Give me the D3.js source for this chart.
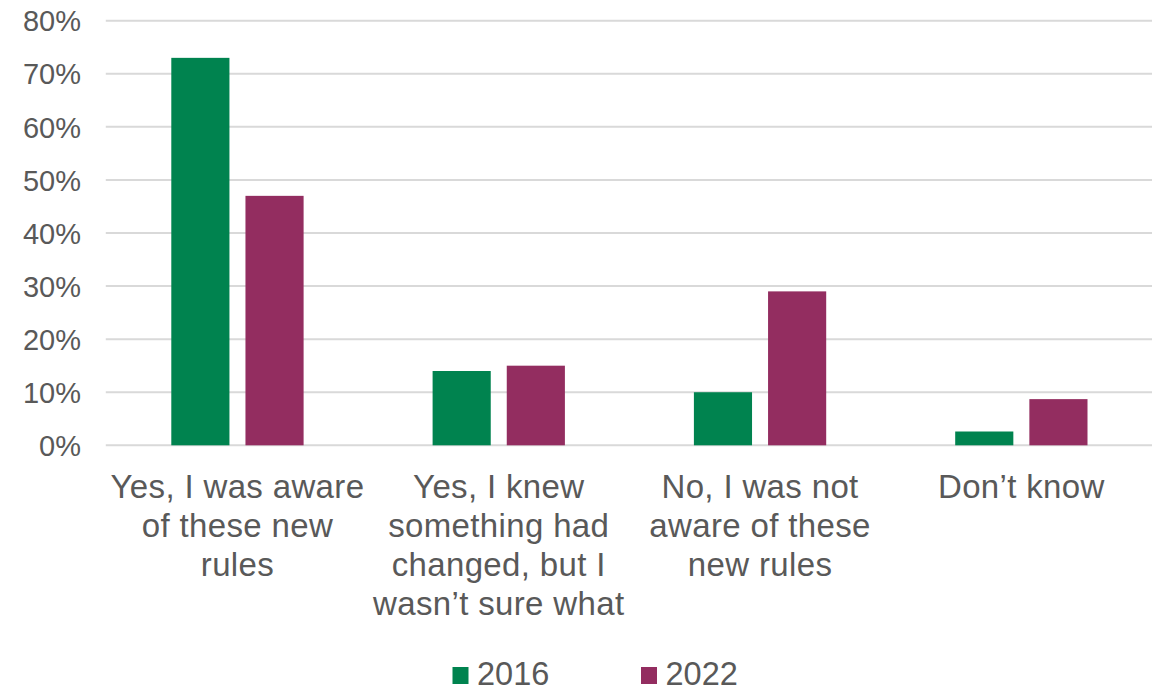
<!DOCTYPE html>
<html>
<head>
<meta charset="utf-8">
<script src="https://cdn.jsdelivr.net/npm/d3@7"></script>
<style>
  html, body { margin: 0; padding: 0; background: #fff; }
  svg { display: block; }
  text { font-family: "Liberation Sans", Arial, sans-serif; fill: #595959; }
</style>
</head>
<body>
<svg id="chart" width="1157" height="692"></svg>
<script>
// ---- data ----
const categories = [
  "Yes, I was aware\nof these new\nrules",
  "Yes, I knew\nsomething had\nchanged, but I\nwasn\u2019t sure what",
  "No, I was not\naware of these\nnew rules",
  "Don\u2019t know"
];
const seriesNames = ["2016", "2022"];
const values2016 = [73, 14, 10, 2.6];
const values2022 = [47, 15, 29, 8.7];
const yTicks = [0, 10, 20, 30, 40, 50, 60, 70, 80];
const colors = ["#00834F", "#932D60"];

const seriesValues = [values2016, values2022];
const data = categories.map((c, i) => ({
  cat: c,
  vals: seriesNames.map((s, j) => ({ series: s, value: seriesValues[j][i] }))
}));

const svg = d3.select("#chart");
const plotLeft = 106.8, plotRight = 1152, plotTop = 20.7, plotBottom = 445.3;

const y = d3.scaleLinear().domain([0, 80]).range([plotBottom, plotTop]);
const x0 = d3.scaleBand().domain(categories).range([plotLeft, plotRight]).padding(0);
const x1 = d3.scaleBand().domain(seriesNames)
  .range([64.5, x0.bandwidth() - 64.5]).paddingInner(0.216).paddingOuter(0);
const color = d3.scaleOrdinal().domain(seriesNames).range(colors);

// gridlines
svg.append("g")
  .selectAll("line").data(yTicks).join("line")
  .attr("x1", plotLeft - 1).attr("x2", plotRight)
  .attr("y1", d => y(d)).attr("y2", d => y(d))
  .attr("stroke", "#d9d9d9").attr("stroke-width", 2);

// y axis labels
const yAxis = d3.axisLeft(y).tickValues(yTicks).tickFormat(d => d + "%").tickSize(0).tickPadding(0);
const gy = svg.append("g").attr("transform", `translate(81,0)`).call(yAxis);
gy.select(".domain").remove();
gy.selectAll("text")
  .style("font-family", '"Liberation Sans", Arial, sans-serif')
  .style("font-size", "29px").attr("fill", "#595959").attr("dy", "0.35em");

// bars
svg.append("g").selectAll("g").data(data).join("g")
  .attr("transform", d => `translate(${x0(d.cat)},0)`)
  .selectAll("rect").data(d => d.vals).join("rect")
  .attr("x", d => x1(d.series))
  .attr("width", x1.bandwidth())
  .attr("y", d => y(d.value))
  .attr("height", d => y(0) - y(d.value))
  .attr("fill", d => color(d.series));

// category labels
const labels = svg.append("g").selectAll("text").data(categories).join("text")
  .attr("text-anchor", "middle")
  .attr("x", d => x0(d) + x0.bandwidth() / 2)
  .attr("y", 498)
  .style("font-size", "33px")
  .style("letter-spacing", "0.35px");
labels.each(function(d) {
  const lines = d.split("\n");
  d3.select(this).selectAll("tspan").data(lines).join("tspan")
    .attr("x", x0(d) + x0.bandwidth() / 2)
    .attr("dy", (l, i) => i === 0 ? 0 : 39)
    .text(l => l);
});

// legend
const legendX = [452.5, 641];
const lg = svg.append("g").selectAll("g").data(seriesNames).join("g")
  .attr("transform", (d, i) => `translate(${legendX[i]},667)`);
lg.append("rect").attr("width", 16).attr("height", 17).attr("fill", d => color(d));
lg.append("text").attr("x", 24.5).attr("y", 18).style("font-size", "32.5px").text(d => d);
</script>
</body>
</html>
